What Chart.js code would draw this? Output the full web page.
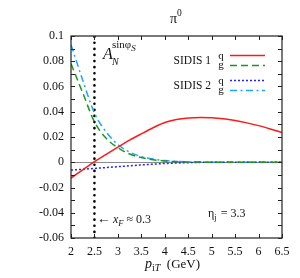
<!DOCTYPE html>
<html>
<head>
<meta charset="utf-8">
<script src="https://cdn.jsdelivr.net/npm/chart.js@4/dist/chart.umd.min.js"></script>
<style>
  html, body { margin: 0; padding: 0; background: #fff; }
  #wrap { width: 300px; height: 278px; }
</style>
</head>
<body>
<div id="wrap"><canvas id="chart" width="300" height="278"></canvas></div>
<script>
// p_iT grid (GeV)
const pT = [2, 2.25, 2.5, 2.75, 3, 3.25, 3.5, 3.75, 4, 4.25, 4.5, 4.75, 5, 5.25, 5.5, 5.75, 6, 6.25, 6.5]

// A_N^{sin phi_S}
const sidis1Quark = [-0.0125, -0.006, 0.0005, 0.0063, 0.012, 0.0175, 0.0225, 0.0273, 0.0315, 0.0338, 0.035, 0.0355, 0.0353, 0.0345, 0.0331, 0.0312, 0.029, 0.0264, 0.0236]
const sidis1Gluon = [0.078, 0.055, 0.032, 0.019, 0.0115, 0.0065, 0.0037, 0.002, 0.001, 0.0005, 0.0002, 0.0001, 0, 0, 0, 0, 0, 0, 0]
const sidis2Quark = [-0.0062, -0.0056, -0.0049, -0.0042, -0.0035, -0.0028, -0.0021, -0.0015, -0.001, -0.0006, -0.0003, -0.0001, 0, 0, 0, 0, 0, 0, 0]
const sidis2Gluon = [0.093, 0.065, 0.039, 0.024, 0.014, 0.008, 0.0045, 0.0025, 0.0013, 0.0006, 0.0003, 0.0001, 0, 0, 0, 0, 0, 0, 0]

// x_F ~ 0.3 marker
const xfLineX = [2.5, 2.5]
const xfLineY = [-0.06, 0.1]

// axis ranges / ticks
const xRange = [2, 6.5]
const yRange = [-0.06, 0.1]
const xStep = 0.5
const yStep = 0.02
const yMinorStep = 0.01

const serif = '"Liberation Serif", "DejaVu Serif", serif'

function pts (xs, ys) {
  return xs.map((x, i) => ({x: x, y: ys[i]}))
}

function curve (label, ys, color, dash) {
  return {
    label                 : label,
    data                  : pts(pT, ys),
    borderColor           : color,
    borderWidth           : 1.5,
    borderDash            : dash,
    pointRadius           : 0,
    fill                  : false,
    cubicInterpolationMode: 'monotone'
  }
}

// draw a row of text pieces (font, dy) one after another
function runs (ctx, x, y, parts) {
  ctx.textAlign = 'left'
  ctx.textBaseline = 'alphabetic'
  parts.forEach(p => {
    ctx.font = p.f
    ctx.fillText(p.t, x, y + (p.dy || 0))
    x += ctx.measureText(p.t).width + (p.gap || 0)
  })
}

const decorPlugin = {
  id: 'decor',
  beforeDatasetsDraw (chart) {
    let ctx = chart.ctx,
        a   = chart.chartArea,
        y0  = chart.scales.y.getPixelForValue(0)
    ctx.save()
    ctx.strokeStyle = '#8a8a8a'
    ctx.lineWidth = 1
    ctx.beginPath()
    ctx.moveTo(a.left, Math.round(y0) + 0.5)
    ctx.lineTo(a.right, Math.round(y0) + 0.5)
    ctx.stroke()
    ctx.restore()
  },
  afterDatasetsDraw (chart) {
    let ctx = chart.ctx,
        a   = chart.chartArea,
        xs  = chart.scales.x,
        ys  = chart.scales.y
    ctx.save()
    ctx.strokeStyle = '#222'
    ctx.lineWidth = 1.2
    ctx.strokeRect(a.left, a.top, a.right - a.left, a.bottom - a.top)

    // inward ticks
    ctx.lineWidth = 1
    ctx.beginPath()
    for (let v = xRange[0]; v <= xRange[1] + 1e-9; v += xStep) {
      let px = Math.round(xs.getPixelForValue(v)) + 0.5
      ctx.moveTo(px, a.bottom); ctx.lineTo(px, a.bottom - 4)
      ctx.moveTo(px, a.top); ctx.lineTo(px, a.top + 4)
    }
    for (let v = yRange[0]; v <= yRange[1] + 1e-9; v += yMinorStep) {
      let py = Math.round(ys.getPixelForValue(v)) + 0.5
      ctx.moveTo(a.left, py); ctx.lineTo(a.left + 4, py)
      ctx.moveTo(a.right, py); ctx.lineTo(a.right - 4, py)
    }
    ctx.stroke()

    // legend
    ctx.fillStyle = '#111'
    ctx.font = '11.5px ' + serif
    ctx.textAlign = 'right'
    ctx.textBaseline = 'middle'
    ctx.fillText('SIDIS 1', 211, 61)
    ctx.fillText('SIDIS 2', 211, 86)
    ctx.textAlign = 'center'
    ctx.font = '11px ' + serif
    ctx.fillText('q', 221, 56)
    ctx.fillText('g', 221, 65)
    ctx.fillText('q', 221, 81)
    ctx.fillText('g', 221, 90)
    let rows = [55.5, 65.5, 80.5, 90.5]
    chart.data.datasets.slice(0, 4).forEach((ds, i) => {
      ctx.strokeStyle = ds.borderColor
      ctx.lineWidth = ds.borderWidth
      ctx.setLineDash(ds.borderDash || [])
      ctx.beginPath()
      ctx.moveTo(230, rows[i]); ctx.lineTo(265, rows[i])
      ctx.stroke()
    })
    ctx.setLineDash([])

    // labels
    ctx.fillStyle = '#111'
    runs(ctx, 103, 59, [{t: 'A', f: 'italic 16px ' + serif}])
    runs(ctx, 112, 48, [
      {t: 'sin', f: '11px ' + serif},
      {t: 'φ', f: '11px ' + serif},
      {t: 'S', f: 'italic 9px ' + serif, dy: 3}
    ])
    runs(ctx, 112, 65, [{t: 'N', f: 'italic 10px ' + serif}])

    runs(ctx, 97, 223, [
      {t: '←', f: '14px ' + serif, gap: 2},
      {t: 'x', f: 'italic 12px ' + serif},
      {t: 'F', f: 'italic 8.5px ' + serif, dy: 3},
      {t: ' ≈ 0.3', f: '12px ' + serif}
    ])
    runs(ctx, 208, 217, [
      {t: 'η', f: '12px ' + serif},
      {t: 'j', f: '8.5px ' + serif, dy: 3, gap: 1},
      {t: ' = 3.3', f: '12px ' + serif}
    ])

    // title
    runs(ctx, 170, 23, [{t: 'π', f: '14px ' + serif}])
    runs(ctx, 177, 16, [{t: '0', f: '9.5px ' + serif}])

    // x axis title
    runs(ctx, 145, 268, [
      {t: 'p', f: 'italic 14px ' + serif},
      {t: 'i', f: '10px ' + serif, dy: 3},
      {t: 'T', f: 'italic 10px ' + serif, dy: 3},
      {t: '  (GeV)', f: '13px ' + serif}
    ])
    ctx.restore()
  }
}

new Chart(document.getElementById('chart'), {
  type   : 'line',
  data   : {
    datasets: [
      curve('SIDIS 1 q', sidis1Quark, '#ff1a1a', []),
      curve('SIDIS 1 g', sidis1Gluon, '#1e961e', [7, 4]),
      curve('SIDIS 2 q', sidis2Quark, '#2222ff', [2, 2]),
      curve('SIDIS 2 g', sidis2Gluon, '#1aa6ff', [7, 3.5, 2, 3.5]),
      {
        label         : 'xF',
        data          : pts(xfLineX, xfLineY),
        borderColor   : '#000',
        borderWidth   : 2.6,
        borderDash    : [0.1, 6],
        borderCapStyle: 'round',
        pointRadius   : 0,
        fill          : false
      }
    ]
  },
  plugins: [decorPlugin],
  options: {
    responsive: false,
    animation : false,
    layout    : {padding: {left: 0, right: 18, top: 36, bottom: 0}},
    plugins   : {legend: {display: false}, tooltip: {enabled: false}},
    scales    : {
      x: {
        type    : 'linear',
        min     : xRange[0],
        max     : xRange[1],
        border  : {display: false},
        grid    : {display: false, drawTicks: false},
        ticks   : {
          stepSize: xStep,
          padding : 7,
          color   : '#111',
          font    : {family: serif, size: 12},
          callback: v => String(Math.round(v * 10) / 10)
        },
        afterFit: s => { s.height = 40 }
      },
      y: {
        min     : yRange[0],
        max     : yRange[1],
        border  : {display: false},
        grid    : {display: false, drawTicks: false},
        ticks   : {
          stepSize: yStep,
          padding : 7,
          color   : '#111',
          font    : {family: serif, size: 12},
          callback: v => String(Math.round(v * 100) / 100)
        },
        afterFit: s => { s.height = undefined; s.width = 71 }
      }
    }
  }
})
</script>
</body>
</html>
